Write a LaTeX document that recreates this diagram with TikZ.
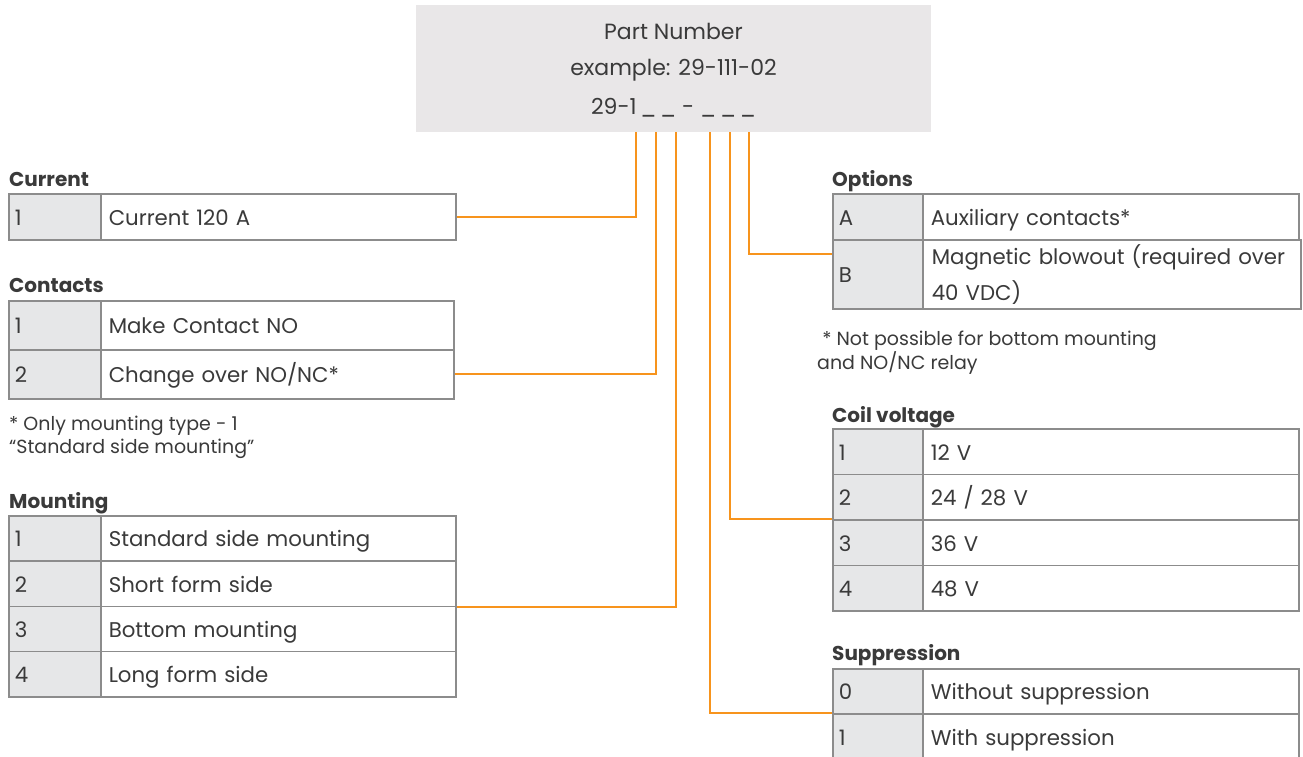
\documentclass[tikz,border=0pt]{standalone}
\usepackage{fontspec}
\setmainfont{Poppins}
\definecolor{conn}{HTML}{F7941D}
\definecolor{bord}{HTML}{8C8C8C}
\definecolor{numfill}{HTML}{E6E7E8}
\definecolor{boxfill}{HTML}{E9E7E8}
\definecolor{txt}{HTML}{3A3A3A}
\tikzset{
  body/.style={font=\fontsize{21.3}{26}\selectfont, text=txt},
  top/.style={font=\fontsize{22}{26}\selectfont, text=txt},
  cellbase/.style={body, draw=bord, line width=1.5pt, anchor=north west, align=left, text height=20pt, text depth=3pt},
  numcell/.style={cellbase, fill=numfill, inner xsep=6pt, text width=#1},
  desccell/.style={cellbase, fill=white, inner xsep=8pt, text width=#1},
  ttl/.style={font=\fontsize{20}{24}\selectfont\bfseries, text=txt, anchor=base west, inner sep=0pt},
  note/.style={font=\fontsize{19}{23}\selectfont, text=txt, anchor=north west, inner sep=0pt, align=left},
  wire/.style={draw=conn, line width=1.8pt}
}
\begin{document}
\begin{tikzpicture}[x=1pt,y=-1pt]
\useasboundingbox (0,0) rectangle (1303,756);
\clip (0,0) rectangle (1303,756);

% Part number box
\node[fill=boxfill, minimum width=515pt, minimum height=127pt, anchor=north west, inner sep=0pt] (pn) at (416,5) {};
\node[top, anchor=center] (pn1) at (673.5,31) {Part Number};
\node[top, anchor=center] (pn2) at (673.5,70) {example: 29-111-02};
\node[top, anchor=center] (pn3) at (673.5,108) {29-1\,\_\,\_ - \_\,\_\,\_};

% Current
\node[ttl] (tcur) at (9,186) {Current};
\node[numcell=80pt, minimum height=46pt] (cur1n) at (8,193) {1};
\node[desccell=339pt, minimum height=46pt] (cur1d) at (100,193) {Current 120 A};

% Contacts
\node[ttl] (tcon) at (9,292) {Contacts};
\node[numcell=80pt, minimum height=49pt] (con1n) at (8,300) {1};
\node[desccell=337pt, minimum height=49pt] (con1d) at (100,300) {Make Contact NO};
\node[numcell=80pt, minimum height=49pt] (con2n) at (8,349) {2};
\node[desccell=337pt, minimum height=49pt] (con2d) at (100,349) {Change over NO/NC*};

\node[note] (ncon) at (9,416) {* Only mounting type - 1\\``Standard side mounting''};

% Mounting
\node[ttl] (tmnt) at (9,508) {Mounting};
\node[numcell=80pt, minimum height=45.25pt] (mnt1n) at (8,515) {1};
\node[desccell=339pt, minimum height=45.25pt] (mnt1d) at (100,515) {Standard side mounting};
\node[numcell=80pt, minimum height=45.25pt] (mnt2n) at (8,560.25) {2};
\node[desccell=339pt, minimum height=45.25pt] (mnt2d) at (100,560.25) {Short form side};
\node[numcell=80pt, minimum height=45.25pt] (mnt3n) at (8,605.5) {3};
\node[desccell=339pt, minimum height=45.25pt] (mnt3d) at (100,605.5) {Bottom mounting};
\node[numcell=80pt, minimum height=45.25pt] (mnt4n) at (8,650.75) {4};
\node[desccell=339pt, minimum height=45.25pt] (mnt4d) at (100,650.75) {Long form side};

% Options
\node[ttl] (topt) at (832,186) {Options};
\node[numcell=78pt, minimum height=46pt] (optAn) at (832,193) {A};
\node[desccell=360pt, minimum height=46pt] (optAd) at (922,193) {Auxiliary contacts*};
\node[numcell=78pt, minimum height=69pt] (optBn) at (832,239) {B};
\node[body, draw=bord, line width=1.5pt, anchor=north west, align=left, fill=white, inner xsep=9pt, text width=360pt, minimum height=69pt, font=\fontsize{21.3}{36}\selectfont] (optBd) at (922,239) {Magnetic blowout (required over\\40 VDC)};

\node[note] (nopt) at (817,331) {\ * Not possible for bottom mounting\\and NO/NC relay};

% Coil voltage
\node[ttl] (tcoil) at (832,422) {Coil voltage};
\node[numcell=78pt, minimum height=45.5pt] (coil1n) at (832,428) {1};
\node[desccell=360pt, minimum height=45.5pt] (coil1d) at (922,428) {12 V};
\node[numcell=78pt, minimum height=45.5pt] (coil2n) at (832,473.5) {2};
\node[desccell=360pt, minimum height=45.5pt] (coil2d) at (922,473.5) {24 / 28 V};
\node[numcell=78pt, minimum height=45.5pt] (coil3n) at (832,519) {3};
\node[desccell=360pt, minimum height=45.5pt] (coil3d) at (922,519) {36 V};
\node[numcell=78pt, minimum height=45.5pt] (coil4n) at (832,564.5) {4};
\node[desccell=360pt, minimum height=45.5pt] (coil4d) at (922,564.5) {48 V};

% Suppression
\node[ttl] (tsup) at (832,660) {Suppression};
\node[numcell=78pt, minimum height=45pt] (sup0n) at (832,668) {0};
\node[desccell=360pt, minimum height=45pt] (sup0d) at (922,668) {Without suppression};
\node[numcell=78pt, minimum height=46pt] (sup1n) at (832,713) {1};
\node[desccell=360pt, minimum height=46pt] (sup1d) at (922,713) {With suppression};

% Connectors
\draw[wire] ([xshift=220pt]pn.south west) |- (cur1d.east);
\draw[wire] ([xshift=240pt]pn.south west) |- (con2d.east);
\draw[wire] ([xshift=260pt]pn.south west) |- (mnt2d.south east);
\draw[wire] ([xshift=294pt]pn.south west) |- (sup1n.north west);
\draw[wire] ([xshift=314pt]pn.south west) |- (coil3n.north west);
\draw[wire] ([xshift=333pt]pn.south west) |- ([yshift=-15pt]optBn.north west);
\end{tikzpicture}
\end{document}
